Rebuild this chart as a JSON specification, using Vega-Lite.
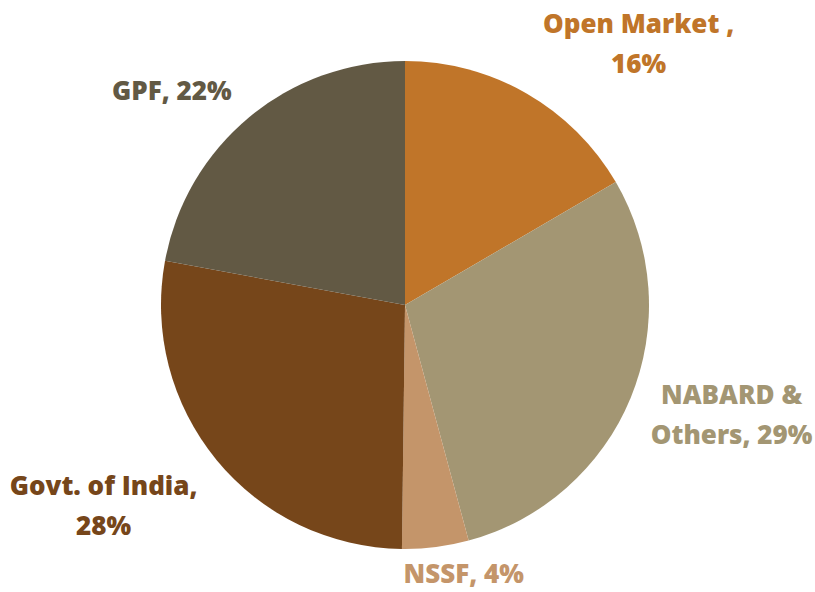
{
  "$schema": "https://vega.github.io/schema/vega-lite/v6.json",
  "autosize": "none",
  "width": 810,
  "height": 574,
  "padding": {"left": 0, "top": 18, "right": 5, "bottom": 0},
  "background": "white",
  "config": {"view": {"stroke": null}},
  "data": {
    "values": [
      {"idx": 1, "name": "Open Market", "value": 16.6, "label": "Open Market ,\n16%"},
      {"idx": 2, "name": "NABARD & Others", "value": 29.2, "label": "NABARD &\nOthers, 29%"},
      {"idx": 3, "name": "NSSF", "value": 4.4, "label": "NSSF, 4%"},
      {"idx": 4, "name": "Govt. of India", "value": 27.7, "label": "Govt. of India,\n28%"},
      {"idx": 5, "name": "GPF", "value": 22.1, "label": "GPF, 22%"}
    ]
  },
  "encoding": {
    "theta": {"field": "value", "type": "quantitative", "stack": true},
    "order": {"field": "idx", "type": "quantitative"},
    "color": {
      "field": "name",
      "type": "nominal",
      "legend": null,
      "scale": {
        "domain": ["Open Market", "NABARD & Others", "NSSF", "Govt. of India", "GPF"],
        "range": ["#C07529", "#A39673", "#C4956A", "#76461A", "#625944"]
      }
    }
  },
  "layer": [
    {"mark": {"type": "arc", "outerRadius": 244}},
    {
      "mark": {"type": "text", "radius": 365, "thetaOffset": 0.173, "font": "Open Sans", "fontSize": 26, "fontWeight": 800, "lineBreak": "\n", "lineHeight": 40, "align": "center", "baseline": "middle"},
      "encoding": {"text": {"condition": {"test": "datum.name === 'Open Market'", "field": "label"}, "value": ""}}
    },
    {
      "mark": {"type": "text", "radius": 339, "thetaOffset": -0.118, "font": "Open Sans", "fontSize": 26, "fontWeight": 800, "lineBreak": "\n", "lineHeight": 40, "align": "center", "baseline": "middle"},
      "encoding": {"text": {"condition": {"test": "datum.name === 'NABARD & Others'", "field": "label"}, "value": ""}}
    },
    {
      "mark": {"type": "text", "radius": 276, "thetaOffset": -0.089, "font": "Open Sans", "fontSize": 26, "fontWeight": 800, "lineBreak": "\n", "lineHeight": 40, "align": "center", "baseline": "middle"},
      "encoding": {"text": {"condition": {"test": "datum.name === 'NSSF'", "field": "label"}, "value": ""}}
    },
    {
      "mark": {"type": "text", "radius": 352, "thetaOffset": 0.145, "font": "Open Sans", "fontSize": 26, "fontWeight": 800, "lineBreak": "\n", "lineHeight": 40, "align": "center", "baseline": "middle"},
      "encoding": {"text": {"condition": {"test": "datum.name === 'Govt. of India'", "field": "label"}, "value": ""}}
    },
    {
      "mark": {"type": "text", "radius": 316, "thetaOffset": -0.136, "font": "Open Sans", "fontSize": 26, "fontWeight": 800, "lineBreak": "\n", "lineHeight": 40, "align": "center", "baseline": "middle"},
      "encoding": {"text": {"condition": {"test": "datum.name === 'GPF'", "field": "label"}, "value": ""}}
    }
  ]
}
